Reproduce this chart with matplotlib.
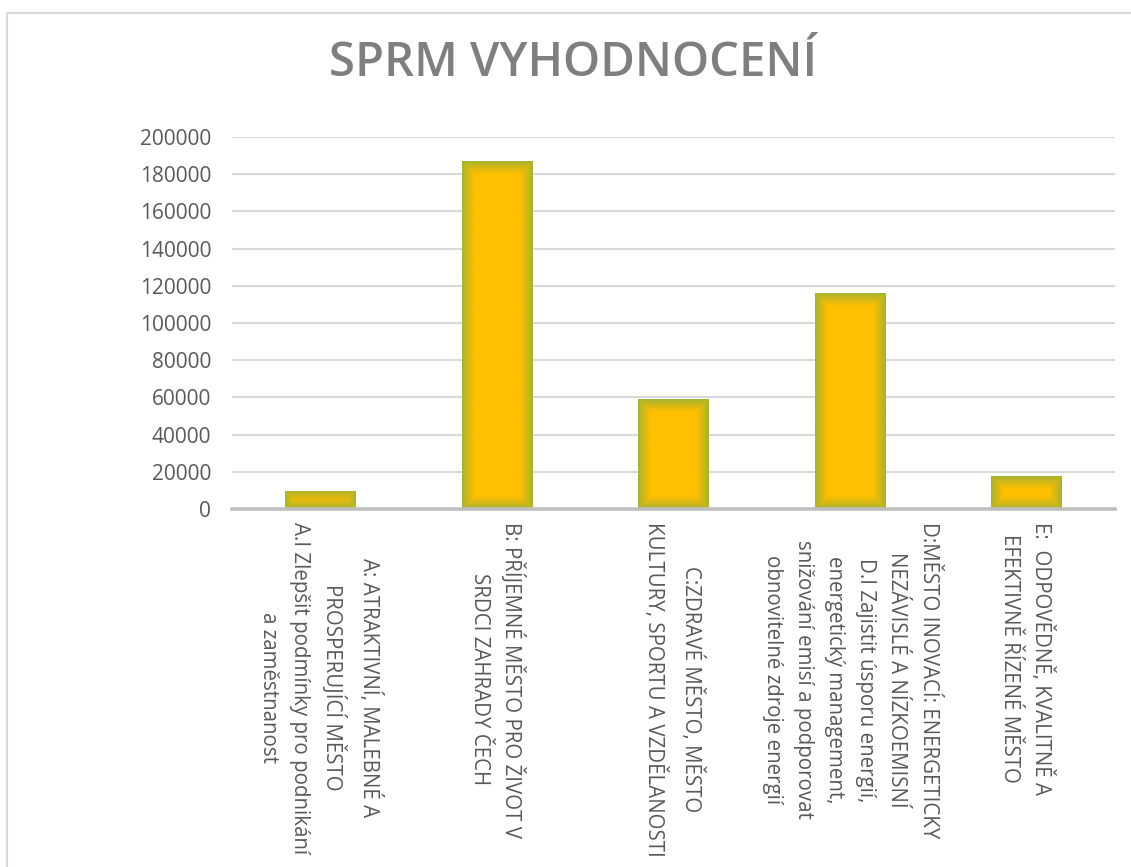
import numpy as np
import matplotlib
matplotlib.use("Agg")
import matplotlib.pyplot as plt
from matplotlib.colors import LinearSegmentedColormap
from matplotlib.lines import Line2D

# data
categories = [
    "A: ATRAKTIVNÍ, MALEBNÉ A\nPROSPERUJÍCÍ MĚSTO\nA.I Zlepšit podmínky pro podnikání\na zaměstnanost",
    "B: PŘÍJEMNÉ MĚSTO PRO ŽIVOT V\nSRDCI ZAHRADY ČECH",
    "C:ZDRAVÉ MĚSTO, MĚSTO\nKULTURY, SPORTU A VZDĚLANOSTI",
    "D:MĚSTO INOVACÍ: ENERGETICKY\nNEZÁVISLÉ A NÍZKOEMISNÍ\nD.I Zajistit úsporu energií,\nenergetický management,\nsnižování emisí a podporovat\nobnovitelné zdroje energií",
    "E:  ODPOVĚDNĚ, KVALITNĚ A\nEFEKTIVNĚ ŘÍZENÉ MĚSTO",
]
values = [9700, 187000, 59000, 116000, 17700]
yticks = [0, 20000, 40000, 60000, 80000, 100000, 120000, 140000, 160000, 180000, 200000]
title = "SPRM VYHODNOCENÍ"

plt.rcParams["font.family"] = ["Open Sans", "DejaVu Sans"]

W, H = 1131, 867
fig = plt.figure(figsize=(W / 100, H / 100), dpi=100)
ax = fig.add_axes([232 / W, 1 - 509 / H, (1115 - 232) / W, (509 - 137) / H])

x = np.arange(len(categories))
bars = ax.bar(x, values, width=0.4, color="#FFC000", edgecolor="none", zorder=2)
ax.set_xlim(-0.5, len(categories) - 0.5)
ax.set_ylim(0, 200000)

# gradient fill (gold centre, olive edges) clipped to each bar
cmap = LinearSegmentedColormap.from_list("g", ["#A3B532", "#D2B818", "#FFC000"])
for b in bars:
    x0, y0 = b.get_x(), b.get_y()
    bw, bh = b.get_width(), b.get_height()
    p0 = ax.transData.transform((x0, y0))
    p1 = ax.transData.transform((x0 + bw, y0 + bh))
    pw, ph = abs(p1[0] - p0[0]), abs(p1[1] - p0[1])
    nx, ny = max(int(pw), 2), max(int(ph), 2)
    xx = np.linspace(0, pw, nx)
    yy = np.linspace(0, ph, ny)
    X, Y = np.meshgrid(xx, yy)
    d = np.minimum(np.minimum(X, pw - X), np.minimum(Y, ph - Y))
    t = np.clip(d / 13.0, 0, 1) ** 0.8
    im = ax.imshow(t, cmap=cmap, vmin=0, vmax=1, extent=(x0, x0 + bw, y0, y0 + bh),
                   origin="lower", aspect="auto", zorder=3, interpolation="bilinear")
    im.set_clip_path(b)
ax.set_xlim(-0.5, len(categories) - 0.5)
ax.set_ylim(0, 200000)

ax.set_yticks(yticks)
ax.set_yticklabels([str(v) for v in yticks], fontsize=15, color="#595959")
ax.yaxis.grid(True, color="#d9d9d9", linewidth=1.5, zorder=0)
ax.set_axisbelow(True)
ax.tick_params(axis="y", length=0, pad=15)
ax.tick_params(axis="x", length=0)
for s in ["top", "right", "left"]:
    ax.spines[s].set_visible(False)
ax.spines["bottom"].set_color("#bfbfbf")
ax.spines["bottom"].set_linewidth(2.6)
ax.spines["bottom"].set_zorder(4)

ax.set_xticks(x)
ax.set_xticklabels([])
for i, lab in enumerate(categories):
    ax.annotate(lab, xy=(i, 0), xycoords=("data", "axes fraction"),
                xytext=(0, -9), textcoords="offset points",
                rotation=270, ha="center", va="top", multialignment="center",
                fontsize=14.8, color="#595959", linespacing=1.64,
                annotation_clip=False)

fig.text(0.507, 1 - 63 / H, title, ha="center", va="center",
         fontsize=34, fontweight="semibold", color="#7f7f7f")

# chart area border
fig.add_artist(Line2D([7 / W, 7 / W], [0, 1 - 13 / H], color="#d9d9d9", linewidth=1.5,
                      transform=fig.transFigure))
fig.add_artist(Line2D([7 / W, 1], [1 - 13 / H, 1 - 13 / H], color="#d9d9d9", linewidth=1.5,
                      transform=fig.transFigure))

fig.savefig("out.png", dpi=100)
